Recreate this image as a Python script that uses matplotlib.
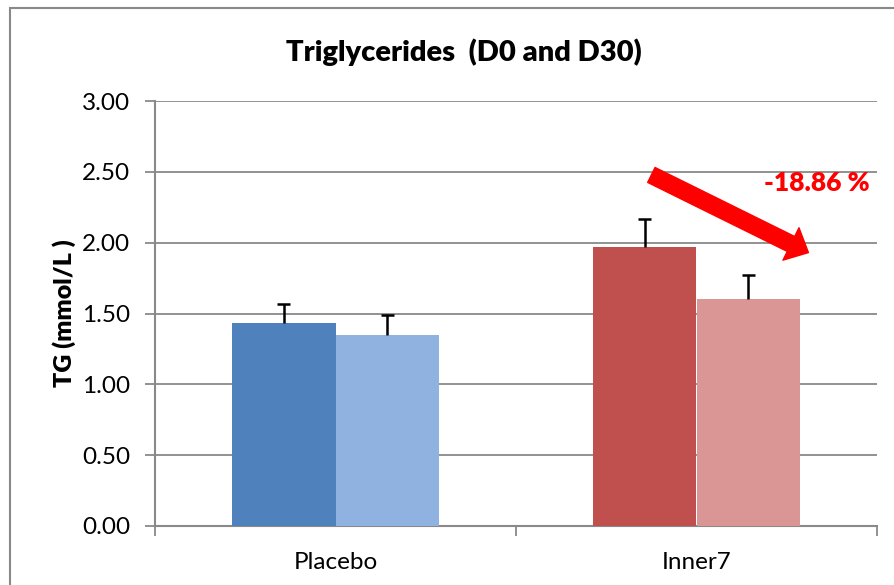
import matplotlib

matplotlib.use("Agg")
import matplotlib.pyplot as plt
import numpy as np
from matplotlib.patches import Rectangle

plt.rcParams["font.family"] = ["Lato", "DejaVu Sans"]

# data
groups = ["Placebo", "Inner7"]
d0_vals = [1.43, 1.97]
d30_vals = [1.35, 1.60]
d0_err = [0.14, 0.20]
d30_err = [0.14, 0.17]
d0_colors = ["#4F81BD", "#C0504D"]
d30_colors = ["#8FB2E1", "#D99694"]
change_label = "-18.86 %"

GRID = "#898989"

fig = plt.figure(figsize=(8.95, 5.85), dpi=100)
ax = fig.add_axes([155 / 895, 59 / 585, 722 / 895, 425 / 585])

# outer chart border (cropped at right/bottom in the reference)
fig.patches.append(Rectangle((10 / 895, -0.1), 1.2, (585 - 8) / 585 + 0.1,
                             transform=fig.transFigure, fill=False,
                             edgecolor=GRID, linewidth=1.5))

x = np.arange(len(groups))
width = 0.2875
ax.bar(x - width / 2, d0_vals, width, color=d0_colors, zorder=3)
ax.bar(x + width / 2, d30_vals, width, color=d30_colors, zorder=3)


def upper_err(xs, tops, errs):
    # Excel-style "plus" error bars: stem + cap only above the bar
    tops = np.asarray(tops)
    ends = tops + np.asarray(errs)
    ax.vlines(xs, tops, ends, color="black", linewidth=1.8, zorder=4)
    ax.hlines(ends, xs - 0.017, xs + 0.017, color="black", linewidth=1.8, zorder=4)


upper_err(x - width / 2, d0_vals, d0_err)
upper_err(x + width / 2, d30_vals, d30_err)

ax.set_xlim(-0.5, len(groups) - 0.5)
ax.set_ylim(0, 3.0)
ax.set_yticks(np.arange(0, 3.01, 0.5))
ax.set_yticklabels([f"{v:.2f}" for v in np.arange(0, 3.01, 0.5)], fontsize=17.5)
ax.yaxis.grid(True, color=GRID, linewidth=1.3, zorder=0)

# category boundary ticks, labels centered
ax.set_xticks(np.arange(-0.5, len(groups), 1.0))
ax.set_xticklabels([])
ax.set_xticks(x, minor=True)
ax.set_xticklabels(groups, minor=True, fontsize=17.5)
ax.tick_params(axis="x", which="minor", length=0, pad=19)
ax.tick_params(axis="x", which="major", length=7, color=GRID, width=1.3)
ax.tick_params(axis="y", length=7, color=GRID, width=1.3, pad=11)

for side in ("top", "right"):
    ax.spines[side].set_visible(False)
for side in ("left", "bottom"):
    ax.spines[side].set_color(GRID)
    ax.spines[side].set_linewidth(1.5)

ax.set_ylabel("TG (mmol/L )", fontsize=18, fontweight="heavy")
ax.yaxis.set_label_coords(-0.109, 0.50)
fig.text(464 / 895, 1 - 52 / 585, "Triglycerides  (D0 and D30)", fontsize=21,
         fontweight="heavy", ha="center", va="center")

# decrease arrow and label for Inner7
ax.annotate("", xy=(1.31, 1.93), xytext=(0.875, 2.478),
            arrowprops=dict(arrowstyle="simple,head_length=14,head_width=26,tail_width=12",
                            mutation_scale=1, color="red", shrinkA=0, shrinkB=0),
            zorder=5)
ax.text(1.333, 2.42, change_label, color="red", fontsize=19, fontweight="heavy",
        ha="center", va="center", zorder=5)

fig.savefig("out.png", dpi=100)
